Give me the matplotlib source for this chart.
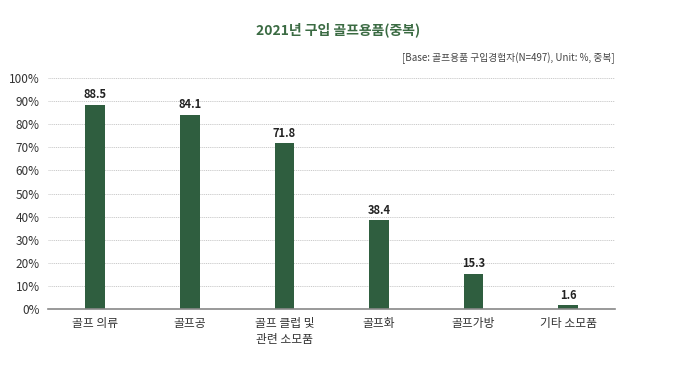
import matplotlib
matplotlib.use("Agg")
import matplotlib.pyplot as plt
import numpy as np

plt.rcParams["font.family"] = ["Noto Sans CJK KR", "DejaVu Sans"]

categories = ["골프 의류", "골프공", "골프 클럽 및\n관련 소모품", "골프화", "골프가방", "기타 소모품"]
values = [88.5, 84.1, 71.8, 38.4, 15.3, 1.6]
yticks = [0, 10, 20, 30, 40, 50, 60, 70, 80, 90, 100]

BAR = "#2f5e3f"
TITLE = "#3b6b43"

fig = plt.figure(figsize=(6.77, 3.91), dpi=100)
ax = fig.add_axes([0.071, 0.21, 0.838, 0.59])

x = np.arange(len(categories))
ax.bar(x, values, width=0.21, color=BAR, zorder=3)
for xi, v in zip(x, values):
    ax.text(xi, v + 1.5, f"{v:.1f}", ha="center", va="bottom",
            fontsize=8, fontweight="bold", color="#222222")

ax.set_xlim(-0.5, len(categories) - 0.5)
ax.set_ylim(0, 100)
ax.set_yticks(yticks)
ax.set_yticklabels([f"{t}%" for t in yticks], fontsize=8.5,
                   fontweight="medium", color="#333333")
ax.set_xticks(x)
ax.set_xticklabels(categories, fontsize=8.5, fontweight="medium",
                   color="#333333", linespacing=1.3)
ax.tick_params(axis="both", length=0, pad=6)
ax.yaxis.grid(True, linestyle=(0, (1.5, 1.2)), color="#b5b5b5", linewidth=0.5, zorder=0)
for side in ["top", "right", "left"]:
    ax.spines[side].set_visible(False)
ax.spines["bottom"].set_color("#888888")
ax.spines["bottom"].set_linewidth(1.2)
ax.spines["bottom"].set_zorder(4)

fig.text(0.5, 0.925, "2021년 구입 골프용품(중복)", ha="center", va="center",
         fontsize=10, fontweight="bold", color=TITLE)
fig.text(0.908, 0.852, "[Base: 골프용품 구입경험자(N=497), Unit: %, 중복]",
         ha="right", va="center", fontsize=7, color="#444444")

fig.savefig("out.png", dpi=100)
